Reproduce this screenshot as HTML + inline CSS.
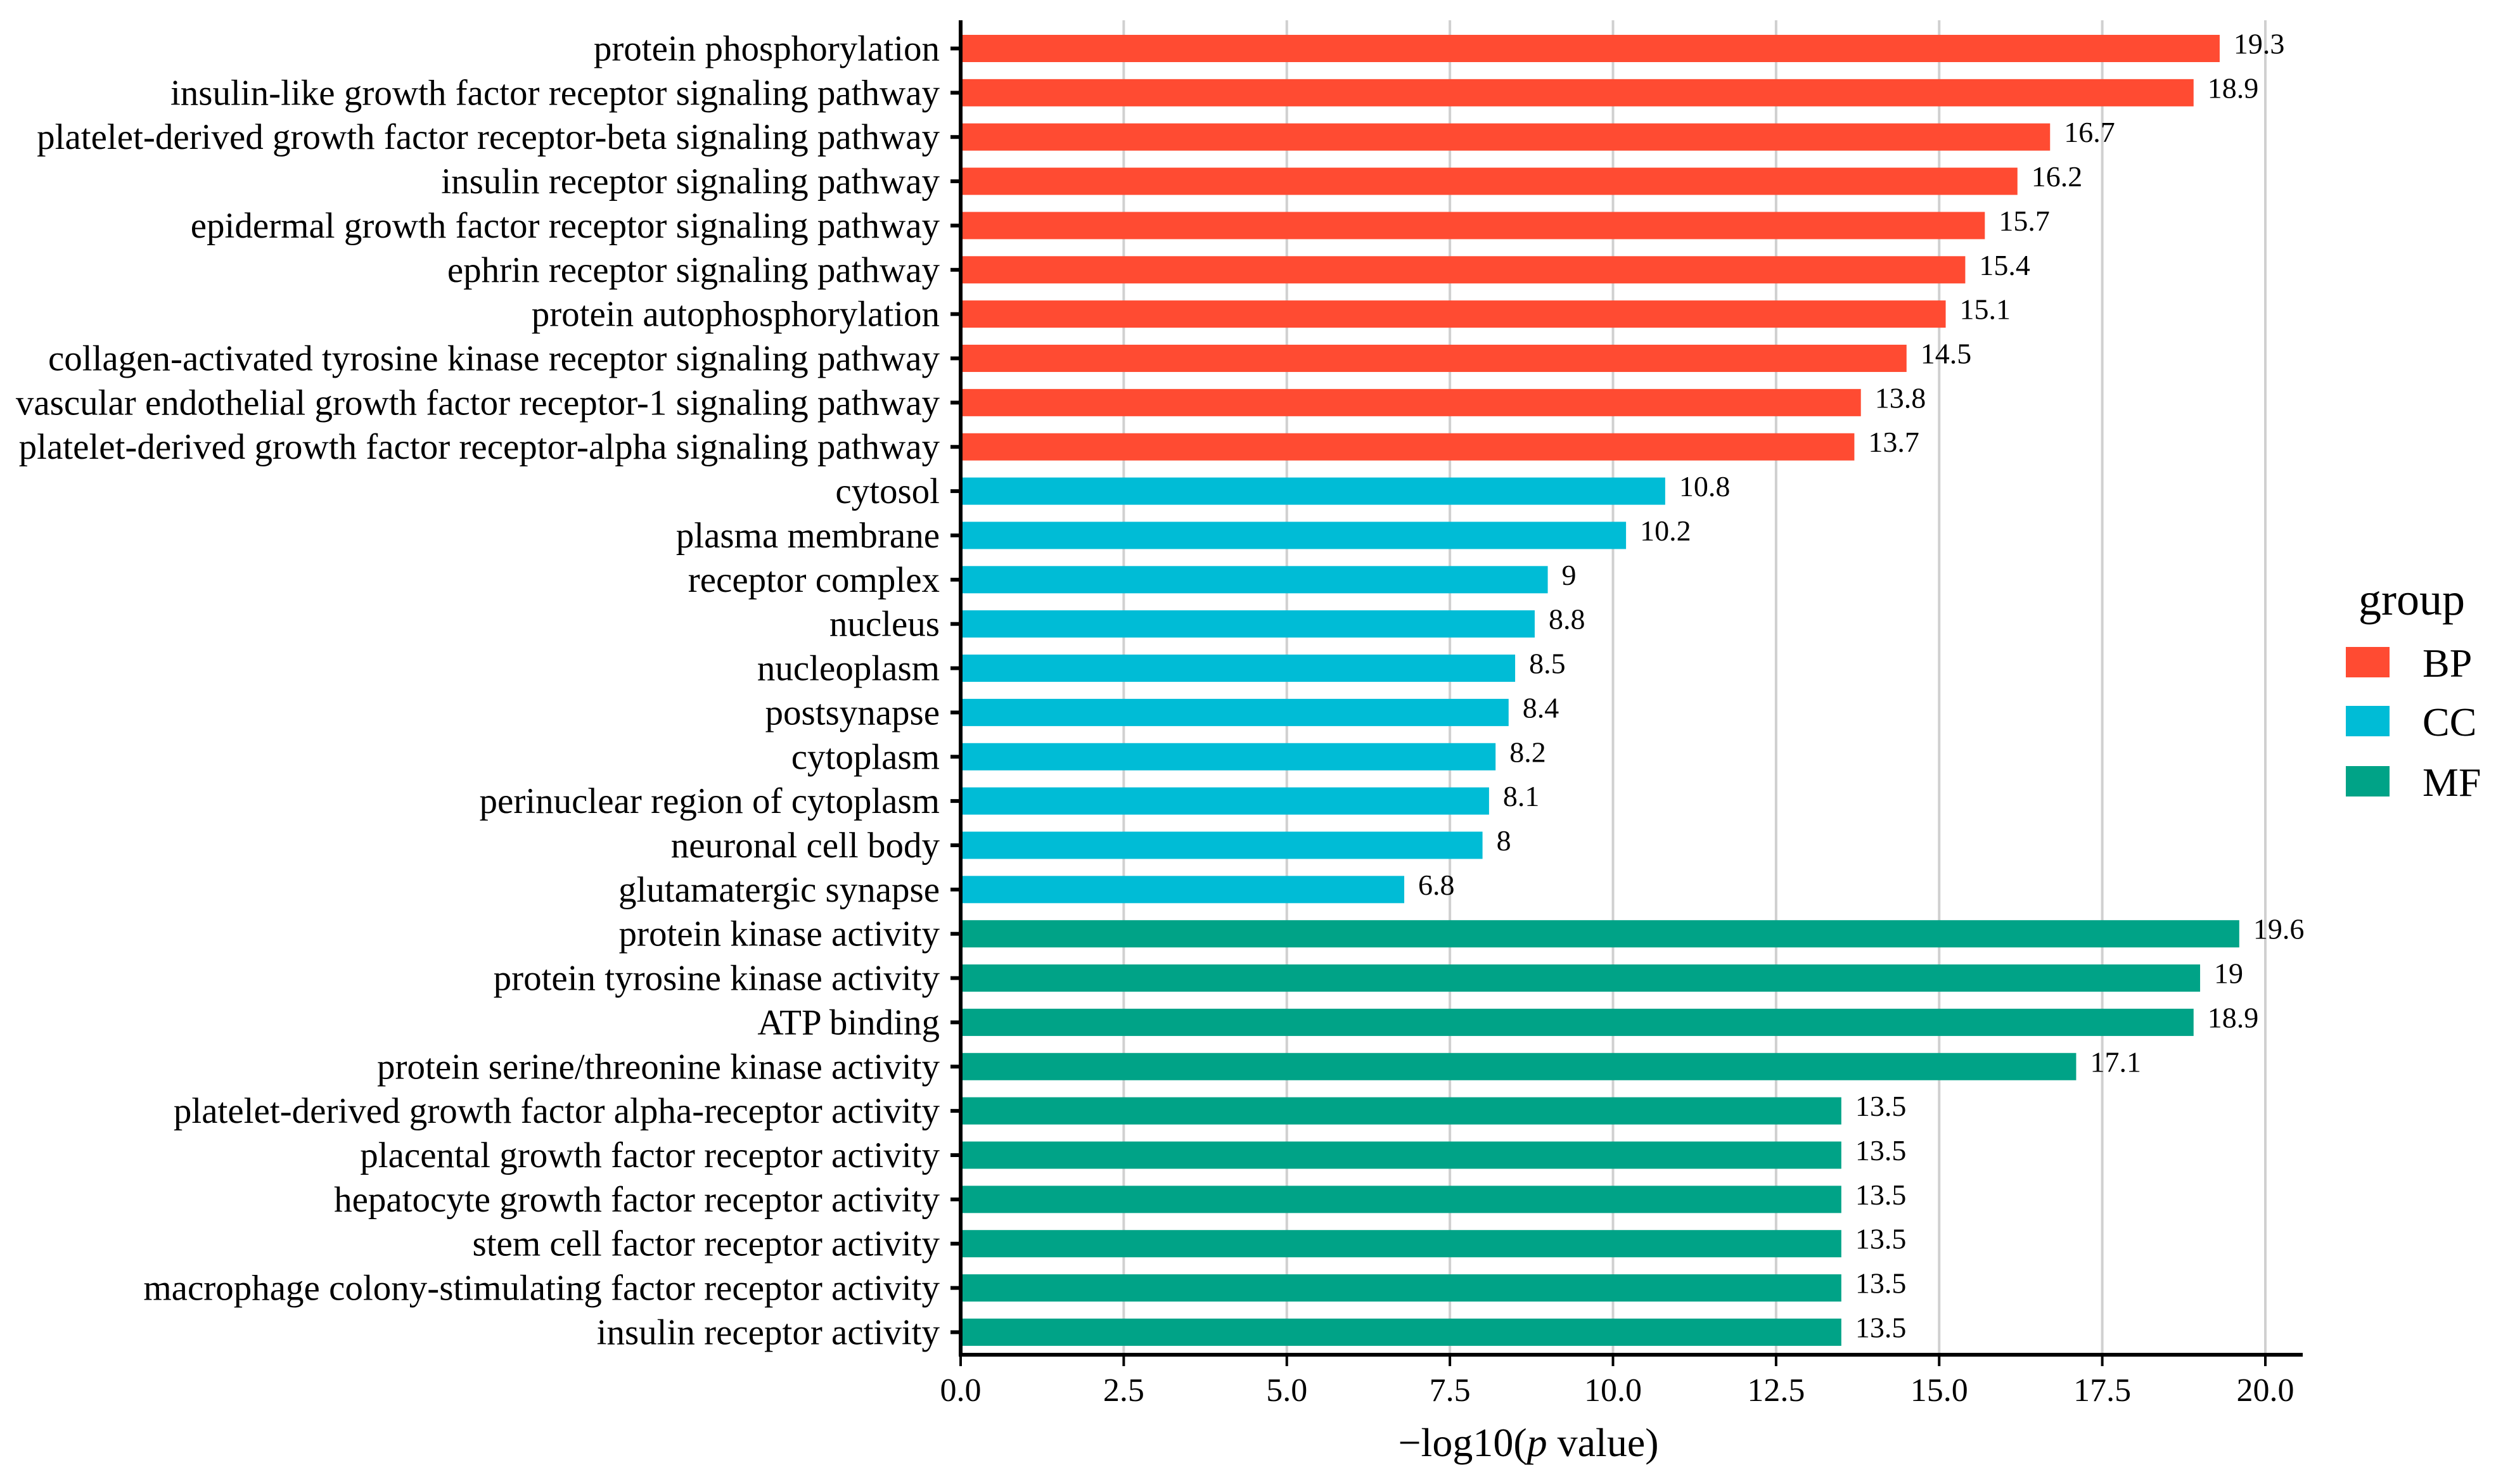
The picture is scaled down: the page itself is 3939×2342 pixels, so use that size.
<!DOCTYPE html>
<html><head><meta charset="utf-8"><style>
html,body{margin:0;padding:0;background:#fff;}
svg{display:block;font-family:"Liberation Serif",serif;}
</style></head><body>
<svg id="chart" width="3939" height="2342" viewBox="0 0 3939 2342" xmlns="http://www.w3.org/2000/svg">
<g id="grid"></g>
<g id="bars"></g>
<g id="axes"></g>
<text x="2412" y="2298" font-size="64" text-anchor="middle">−log10(<tspan font-style="italic">p</tspan> value)</text>
<g>
<text x="3722" y="970" font-size="72">group</text>
<rect x="3702" y="1021" width="69" height="48" fill="#FF4B32"/>
<text x="3823" y="1068" font-size="64">BP</text>
<rect x="3702" y="1114" width="69" height="48" fill="#00BCD6"/>
<text x="3823" y="1161" font-size="64">CC</text>
<rect x="3702" y="1209" width="69" height="48" fill="#00A387"/>
<text x="3823" y="1256" font-size="64">MF</text>
</g>
</svg>
<script>
const categories = ["protein phosphorylation","insulin-like growth factor receptor signaling pathway","platelet-derived growth factor receptor-beta signaling pathway","insulin receptor signaling pathway","epidermal growth factor receptor signaling pathway","ephrin receptor signaling pathway","protein autophosphorylation","collagen-activated tyrosine kinase receptor signaling pathway","vascular endothelial growth factor receptor-1 signaling pathway","platelet-derived growth factor receptor-alpha signaling pathway","cytosol","plasma membrane","receptor complex","nucleus","nucleoplasm","postsynapse","cytoplasm","perinuclear region of cytoplasm","neuronal cell body","glutamatergic synapse","protein kinase activity","protein tyrosine kinase activity","ATP binding","protein serine/threonine kinase activity","platelet-derived growth factor alpha-receptor activity","placental growth factor receptor activity","hepatocyte growth factor receptor activity","stem cell factor receptor activity","macrophage colony-stimulating factor receptor activity","insulin receptor activity"];
const values = [19.3,18.9,16.7,16.2,15.7,15.4,15.1,14.5,13.8,13.7,10.8,10.2,9,8.8,8.5,8.4,8.2,8.1,8,6.8,19.6,19,18.9,17.1,13.5,13.5,13.5,13.5,13.5,13.5];
const groups = ["BP","BP","BP","BP","BP","BP","BP","BP","BP","BP","CC","CC","CC","CC","CC","CC","CC","CC","CC","CC","MF","MF","MF","MF","MF","MF","MF","MF","MF","MF"];
const xTicks = [0,2.5,5,7.5,10,12.5,15,17.5,20];
const xTickLabels = ["0.0","2.5","5.0","7.5","10.0","12.5","15.0","17.5","20.0"];
const colors = {BP:"#FF4B32",CC:"#00BCD6",MF:"#00A387"};

const NS="http://www.w3.org/2000/svg";
const x0=1516, pxPerUnit=102.95, yTop=76.5, pitch=69.86, barH=43, axisY=2138;
const xs=v=>x0+v*pxPerUnit;
const ys=i=>yTop+i*pitch;
function mk(tag,attrs,parent){const e=document.createElementNS(NS,tag);for(const k in attrs)e.setAttribute(k,attrs[k]);parent.appendChild(e);return e;}
const grid=document.getElementById('grid'),bars=document.getElementById('bars'),axes=document.getElementById('axes');
xTicks.forEach((t,i)=>{
  if(t>0){const g=mk('line',{x1:xs(t),x2:xs(t),y1:32,y2:axisY,stroke:"#d0d0d0","stroke-width":4},grid);
  
  }
  const tk=mk('line',{x1:xs(t),x2:xs(t),y1:axisY,y2:2156,stroke:"#000","stroke-width":4},axes);
  
  
  const tl=mk('text',{x:xs(t),y:2211,"font-size":52,"text-anchor":"middle"},axes);
  tl.textContent=xTickLabels[i];
  
  
});
categories.forEach((c,i)=>{
  const cy=ys(i);
  const r=mk('rect',{x:x0,y:cy-barH/2,width:xs(values[i])-x0,height:barH,fill:colors[groups[i]]},bars);
  
  
  const v=mk('text',{x:xs(values[i])+22,y:cy+8,"font-size":46},bars);
  v.textContent=String(values[i]);
  
  
  const tk=mk('line',{x1:1500,x2:x0,y1:cy,y2:cy,stroke:"#000","stroke-width":6},axes);
  
  
  const l=mk('text',{x:1483,y:cy+19,"font-size":57,"text-anchor":"end"},axes);
  l.textContent=c;
  
  
});
const ya=mk('line',{x1:x0,x2:x0,y1:32,y2:axisY+3,stroke:"#000","stroke-width":6},axes);


const xa=mk('line',{x1:x0-3,x2:3634,y1:axisY,y2:axisY,stroke:"#000","stroke-width":6},axes);


</script>
</body></html>
